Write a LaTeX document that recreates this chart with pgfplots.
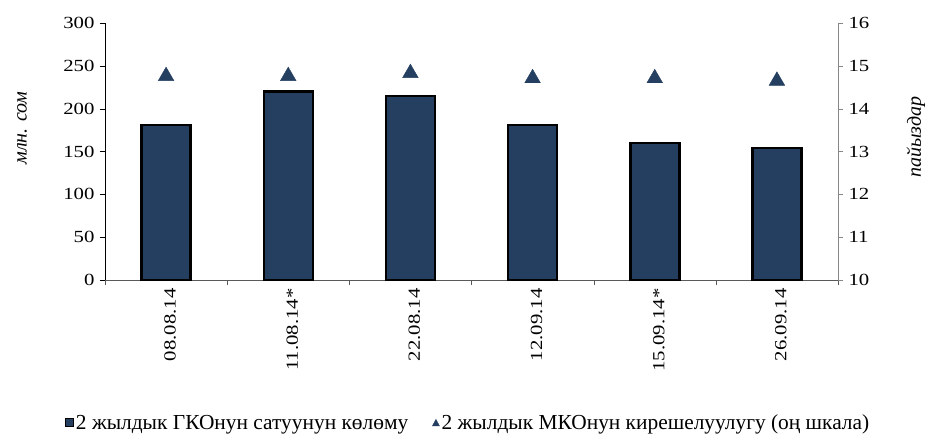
\documentclass[border=0pt]{standalone}
\usepackage{fontspec}
\setmainfont{Liberation Serif}[FakeStretch=1.22]
\newfontfamily\plainserif{Liberation Serif}
\usepackage{pgfplots}
\pgfplotsset{compat=1.18}
\definecolor{barblue}{HTML}{243F60}
\definecolor{axgray}{HTML}{868686}
\begin{document}
\begin{tikzpicture}[font=\fontsize{17}{20}\selectfont]
\path[use as bounding box] (-105pt,-154pt) rectangle (821pt,280pt);
\begin{axis}[
  at={(0pt,0pt)}, anchor=south west,
  scale only axis, width=733pt, height=257pt,
  xmin=-0.5, xmax=5.5, ymin=0, ymax=300,
  axis x line*=bottom, axis y line*=left,
  tick align=outside,
  /pgf/number format/assume math mode=true,
  xtick={0,...,5},
  xticklabels={08.08.14,11.08.14*,22.08.14,12.09.14,15.09.14*,26.09.14},
  major x tick style={draw=none},
  minor xtick={-0.5,0.5,...,5.5},
  minor tick length=5pt, major tick length=5pt,
  x tick label style={rotate=90, anchor=east, yshift=-4pt},
  ytick={0,50,...,300},
  y tick label style={xshift=-2pt},
  x axis line style={draw=black!65},
  minor x tick style={draw=black!65},
  y axis line style={draw=black},
  ytick style={draw=black},
  tick label style={font=\fontsize{17}{20}\selectfont},
]
\addplot[ybar, bar width=49pt, fill=barblue, draw=black, line width=2.5pt]
  coordinates {(0,181) (1,220) (2,215) (3,181) (4,160) (5,154)};
\end{axis}
\begin{axis}[
  at={(0pt,0pt)}, anchor=south west,
  scale only axis, width=733pt, height=257pt,
  xmin=-0.5, xmax=5.5, ymin=10, ymax=16,
  axis y line*=right, axis x line=none,
  tick align=outside, major tick length=5pt,
  /pgf/number format/assume math mode=true,
  ytick={10,...,16},
  y tick label style={xshift=2pt},
  y axis line style={draw=axgray},
  ytick style={draw=axgray},
  tick label style={font=\fontsize{17}{20}\selectfont},
  legend columns=2,
  legend style={draw=none, at={(-0.0546,-0.556)}, anchor=west, inner sep=0pt,
    font=\plainserif\fontsize{21.4}{25}\selectfont,
    nodes={inner sep=2pt},
    /tikz/every even column/.append style={column sep=22pt}},
  legend cell align=left,
]
\addlegendimage{legend image code/.code={\draw[fill=barblue, draw=black, line width=0.8pt] (0pt,-4pt) rectangle (8pt,4pt);}}
\addlegendentry{2 жылдык ГКОнун сатуунун көлөму}
\addlegendimage{legend image code/.code={\fill[barblue] (0pt,-3pt) -- (7pt,-3pt) -- (3.5pt,3.5pt) -- cycle;}}
\addlegendentry{2 жылдык МКОнун кирешелуулугу (оң шкала)}
\addplot[only marks, mark=triangle*, mark size=9pt, color=barblue, forget plot]
  coordinates {(0,14.76) (1,14.76) (2,14.83) (3,14.71) (4,14.71) (5,14.65)};
\end{axis}
\node[rotate=90, font=\plainserif\itshape\fontsize{20}{24}\selectfont] at (-83pt,152pt) {млн. сом};
\node[rotate=90, font=\plainserif\itshape\fontsize{20}{24}\selectfont] at (811pt,143pt) {пайыздар};
\end{tikzpicture}
\end{document}
